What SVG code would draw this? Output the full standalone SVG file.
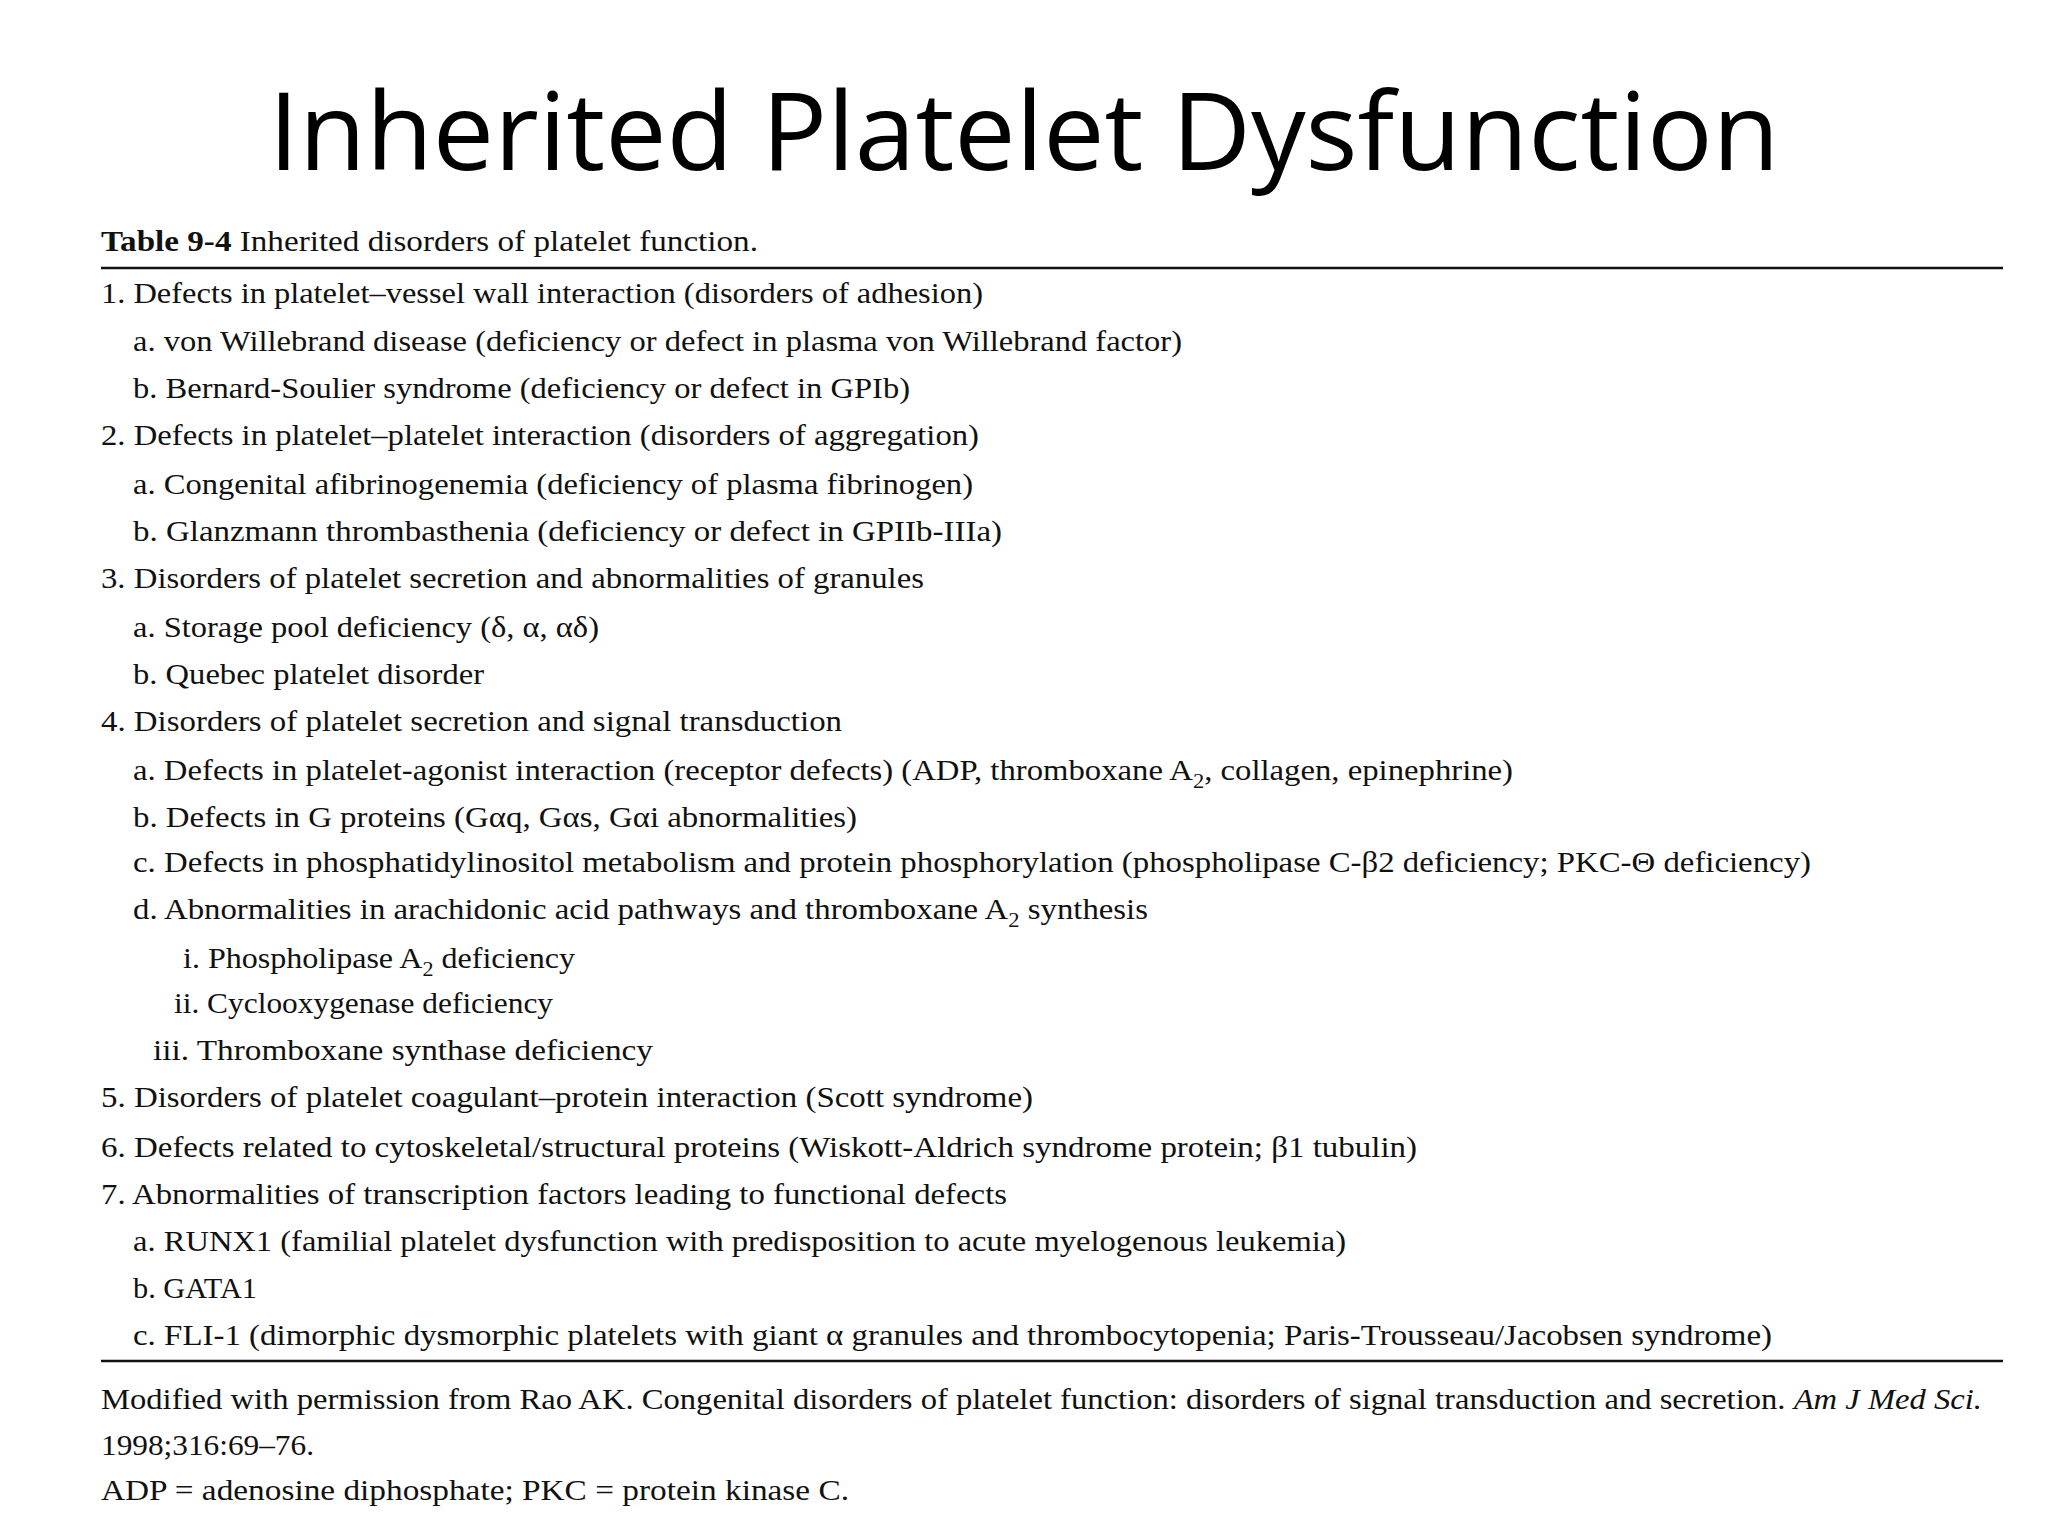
<svg xmlns="http://www.w3.org/2000/svg" width="2048" height="1536" viewBox="0 0 2048 1536">
<style>
.t{font-family:"Liberation Serif","Times New Roman",serif;font-size:29px;fill:#111}
.ti{font-family:"Open Sans","Noto Sans",sans-serif;font-size:108px;fill:#000}
.r{stroke:#111;stroke-width:2.5}
</style>
<rect width="2048" height="1536" fill="#fff"/>
<text class="ti" x="1024" y="170" text-anchor="middle" textLength="1511" lengthAdjust="spacingAndGlyphs">Inherited Platelet Dysfunction</text>
<g id="table">
<text class="t" x="101" y="251" textLength="657" lengthAdjust="spacingAndGlyphs"><tspan font-weight="bold">Table 9-4</tspan>  Inherited disorders of platelet function.</text>
<line class="r" x1="101" y1="268" x2="2003" y2="268"/>
<text class="t" x="101" y="303" textLength="882" lengthAdjust="spacingAndGlyphs">1. Defects in platelet–vessel wall interaction (disorders of adhesion)</text>
<text class="t" x="133" y="351" textLength="1049" lengthAdjust="spacingAndGlyphs">a. von Willebrand disease (deficiency or defect in plasma von Willebrand factor)</text>
<text class="t" x="133" y="398" textLength="777" lengthAdjust="spacingAndGlyphs">b. Bernard-Soulier syndrome (deficiency or defect in GPIb)</text>
<text class="t" x="101" y="445" textLength="878" lengthAdjust="spacingAndGlyphs">2. Defects in platelet–platelet interaction (disorders of aggregation)</text>
<text class="t" x="133" y="494" textLength="840" lengthAdjust="spacingAndGlyphs">a. Congenital afibrinogenemia (deficiency of plasma fibrinogen)</text>
<text class="t" x="133" y="541" textLength="869" lengthAdjust="spacingAndGlyphs">b. Glanzmann thrombasthenia (deficiency or defect in GPIIb-IIIa)</text>
<text class="t" x="101" y="588" textLength="823" lengthAdjust="spacingAndGlyphs">3. Disorders of platelet secretion and abnormalities of granules</text>
<text class="t" x="133" y="637" textLength="466" lengthAdjust="spacingAndGlyphs">a. Storage pool deficiency (δ, α, αδ)</text>
<text class="t" x="133" y="684" textLength="351" lengthAdjust="spacingAndGlyphs">b. Quebec platelet disorder</text>
<text class="t" x="101" y="731" textLength="741" lengthAdjust="spacingAndGlyphs">4. Disorders of platelet secretion and signal transduction</text>
<text class="t" x="133" y="780" textLength="1380" lengthAdjust="spacingAndGlyphs">a. Defects in platelet-agonist interaction (receptor defects) (ADP, thromboxane A<tspan dy="8" font-size="20">2</tspan><tspan dy="-8">, collagen, epinephrine)</tspan></text>
<text class="t" x="133" y="827" textLength="724" lengthAdjust="spacingAndGlyphs">b. Defects in G proteins (Gαq, Gαs, Gαi abnormalities)</text>
<text class="t" x="133" y="872" textLength="1678" lengthAdjust="spacingAndGlyphs">c. Defects in phosphatidylinositol metabolism and protein phosphorylation (phospholipase C-β2 deficiency; PKC-Θ deficiency)</text>
<text class="t" x="133" y="919" textLength="1015" lengthAdjust="spacingAndGlyphs">d. Abnormalities in arachidonic acid pathways and thromboxane A<tspan dy="8" font-size="20">2</tspan><tspan dy="-8"> synthesis</tspan></text>
<text class="t" x="183" y="968" textLength="392" lengthAdjust="spacingAndGlyphs">i. Phospholipase A<tspan dy="8" font-size="20">2</tspan><tspan dy="-8"> deficiency</tspan></text>
<text class="t" x="174" y="1013" textLength="379" lengthAdjust="spacingAndGlyphs">ii. Cyclooxygenase deficiency</text>
<text class="t" x="153" y="1060" textLength="500" lengthAdjust="spacingAndGlyphs">iii. Thromboxane synthase deficiency</text>
<text class="t" x="101" y="1107" textLength="932" lengthAdjust="spacingAndGlyphs">5. Disorders of platelet coagulant–protein interaction (Scott syndrome)</text>
<text class="t" x="101" y="1157" textLength="1316" lengthAdjust="spacingAndGlyphs">6. Defects related to cytoskeletal/structural proteins (Wiskott-Aldrich syndrome protein; β1 tubulin)</text>
<text class="t" x="101" y="1204" textLength="906" lengthAdjust="spacingAndGlyphs">7. Abnormalities of transcription factors leading to functional defects</text>
<text class="t" x="133" y="1251" textLength="1213" lengthAdjust="spacingAndGlyphs">a. RUNX1 (familial platelet dysfunction with predisposition to acute myelogenous leukemia)</text>
<text class="t" x="133" y="1298" textLength="124" lengthAdjust="spacingAndGlyphs">b. GATA1</text>
<text class="t" x="133" y="1345" textLength="1639" lengthAdjust="spacingAndGlyphs">c. FLI-1 (dimorphic dysmorphic platelets with giant α granules and thrombocytopenia; Paris-Trousseau/Jacobsen syndrome)</text>
<line class="r" x1="101" y1="1361" x2="2003" y2="1361"/>
<text class="t" x="101" y="1409" textLength="1881" lengthAdjust="spacingAndGlyphs">Modified with permission from Rao AK. Congenital disorders of platelet function: disorders of signal transduction and secretion. <tspan font-style="italic">Am J Med Sci.</tspan></text>
<text class="t" x="101" y="1455" textLength="213" lengthAdjust="spacingAndGlyphs">1998;316:69–76.</text>
<text class="t" x="101" y="1500" textLength="748" lengthAdjust="spacingAndGlyphs">ADP = adenosine diphosphate; PKC = protein kinase C.</text>
</g>
</svg>
